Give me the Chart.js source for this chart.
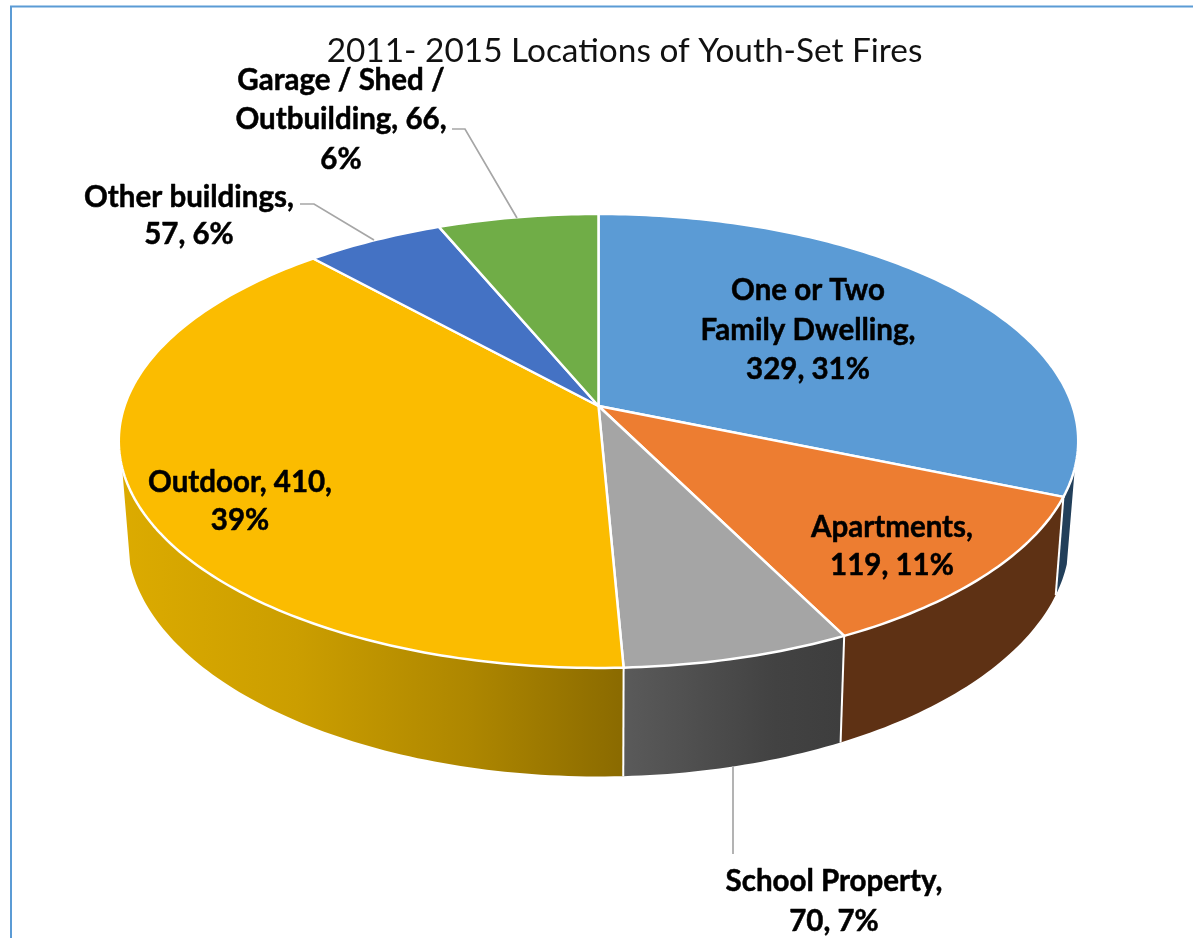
<!DOCTYPE html>
<html>
<head>
<meta charset="utf-8">
<style>html,body{margin:0;padding:0;background:#fff}canvas{display:block}</style>
<script src="https://cdn.jsdelivr.net/npm/chart.js@4/dist/chart.umd.js"></script>
</head>
<body>
<canvas id="c" width="1193" height="938"></canvas>
<script>
const chartTitle = "2011- 2015 Locations of Youth-Set Fires";
const categories = ["One or Two Family Dwelling","Apartments","School Property","Outdoor","Other buildings","Garage / Shed / Outbuilding"];
const values = [329,119,70,410,57,66];
const topColors = ["#5B9BD5","#ED7D31","#A5A5A5","#FBBC00","#4472C4","#70AD47"];
const labelLines = [
  {x:808,ys:[300,340,379],t:["One or Two","Family Dwelling,","329, 31%"]},
  {x:892,ys:[537,575],t:["Apartments,","119, 11%"]},
  {x:834,ys:[891,931],t:["School Property,","70, 7%"]},
  {x:240,ys:[492,530],t:["Outdoor, 410,","39%"]},
  {x:189,ys:[207,244],t:["Other buildings,","57, 6%"]},
  {x:341,ys:[90,129,169],t:["Garage / Shed /","Outbuilding, 66,","6%"]}
];
const leaders = [
  [[733,766],[733,854]],
  [[300,204],[314,204],[374,240]],
  [[452,129],[465,129],[517,218]]
];

// Perspective projection of the pie's unit disc, on top face and base.
const RREF = 404.75;
const TOP = {a:474/RREF,b:221.6/RREF,k:0.154,dy:0};
const BASE = {a:465.6/RREF,b:233.9/RREF,k:0.157,dy:93};
const RAD = Math.PI/180;
const SIL_RIGHT = 105.5*RAD, SIL_LEFT = 254.5*RAD; // silhouette generators of the cylinder
function project(el,p,theta){
  const u=Math.sin(theta),v=Math.cos(theta),w=1+p.k*v,R=el.outerRadius;
  return [el.x+p.a*R*u/w, el.y+p.dy-p.b*R*v/w];
}
function rim(ctx,el,p,t0,t1){
  const n=Math.max(2,Math.ceil(Math.abs(t1-t0)*60));
  for(let i=0;i<=n;i++){const q=project(el,p,t0+(t1-t0)*i/n);ctx.lineTo(q[0],q[1]);}
}
const HALF=Math.PI/2;
Chart.ArcElement.prototype.draw=function(ctx){
  const t0=this.startAngle+HALF,t1=this.endAngle+HALF,o=this.options;
  ctx.save();
  ctx.beginPath();ctx.moveTo(this.x,this.y);rim(ctx,this,TOP,t0,t1);ctx.closePath();
  ctx.fillStyle=o.backgroundColor;ctx.fill();
  ctx.strokeStyle=o.borderColor;ctx.lineWidth=o.borderWidth;ctx.lineJoin="round";ctx.stroke();
  ctx.restore();
};
function wallFill(ctx,i){
  if(i===3){const g=ctx.createLinearGradient(120,0,624,0);
    g.addColorStop(0,"#DCAB00");g.addColorStop(.35,"#CB9E00");g.addColorStop(.7,"#AD8600");g.addColorStop(1,"#8A6A00");return g;}
  if(i===2){const g=ctx.createLinearGradient(624,0,840,0);
    g.addColorStop(0,"#5A5A5A");g.addColorStop(.7,"#424242");g.addColorStop(1,"#3E3E3E");return g;}
  return ["#223F5A","#5E3114"][i];
}
const pie3dWalls={id:"pie3dWalls",
  beforeDatasetsDraw(chart){
    const ctx=chart.ctx,arcs=chart.getDatasetMeta(0).data;
    arcs.forEach((el,i)=>{
      if(i>3)return;
      const t0=Math.max(el.startAngle+HALF,SIL_RIGHT),t1=Math.min(el.endAngle+HALF,SIL_LEFT);
      ctx.save();ctx.beginPath();
      const s=project(el,TOP,t0);ctx.moveTo(s[0],s[1]);
      rim(ctx,el,TOP,t0,t1);rim(ctx,el,BASE,t1,t0);ctx.closePath();
      ctx.fillStyle=wallFill(ctx,i);ctx.fill();ctx.restore();
    });
    arcs.forEach((el,i)=>{
      if(i>2)return;
      const t=el.endAngle+HALF,a=project(el,TOP,t),b=project(el,BASE,t);
      ctx.save();ctx.beginPath();ctx.moveTo(a[0],a[1]);ctx.lineTo(b[0],b[1]);
      ctx.strokeStyle="#fff";ctx.lineWidth=2;ctx.stroke();ctx.restore();
    });
  },
  afterDatasetsDraw(chart){
    const ctx=chart.ctx;
    ctx.save();
    // frame
    ctx.strokeStyle="#5B9BD5";ctx.lineWidth=2;
    ctx.beginPath();ctx.moveTo(11,938);ctx.lineTo(11,6.5);ctx.lineTo(1193,6.5);ctx.stroke();
    // leader lines
    ctx.strokeStyle="#A6A6A6";ctx.lineWidth=1.7;
    leaders.forEach(l=>{ctx.beginPath();l.forEach((p,i)=>i?ctx.lineTo(p[0],p[1]):ctx.moveTo(p[0],p[1]));ctx.stroke();});
    // title
    ctx.fillStyle="#111";ctx.textAlign="center";ctx.textBaseline="alphabetic";
    ctx.font='33.4px Lato';
    ctx.fillText(chartTitle,624.5,62);
    // data labels
    ctx.fillStyle="#000";ctx.strokeStyle="#000";ctx.lineWidth=0.5;ctx.lineJoin="round";ctx.font='bold 29.5px Lato';
    labelLines.forEach(b=>b.t.forEach((s,i)=>{ctx.fillText(s,b.x,b.ys[i]);ctx.strokeText(s,b.x,b.ys[i]);}));
    ctx.restore();
  }
};
new Chart(document.getElementById("c"),{
  type:"pie",
  data:{labels:categories,datasets:[{data:values,backgroundColor:topColors,borderColor:"#fff",borderWidth:2.5}]},
  options:{responsive:false,animation:false,
    layout:{padding:{left:4,right:0,top:0,bottom:126}},
    plugins:{legend:{display:false},title:{display:false},tooltip:{enabled:false}}},
  plugins:[pie3dWalls]
});
</script>
</body>
</html>
